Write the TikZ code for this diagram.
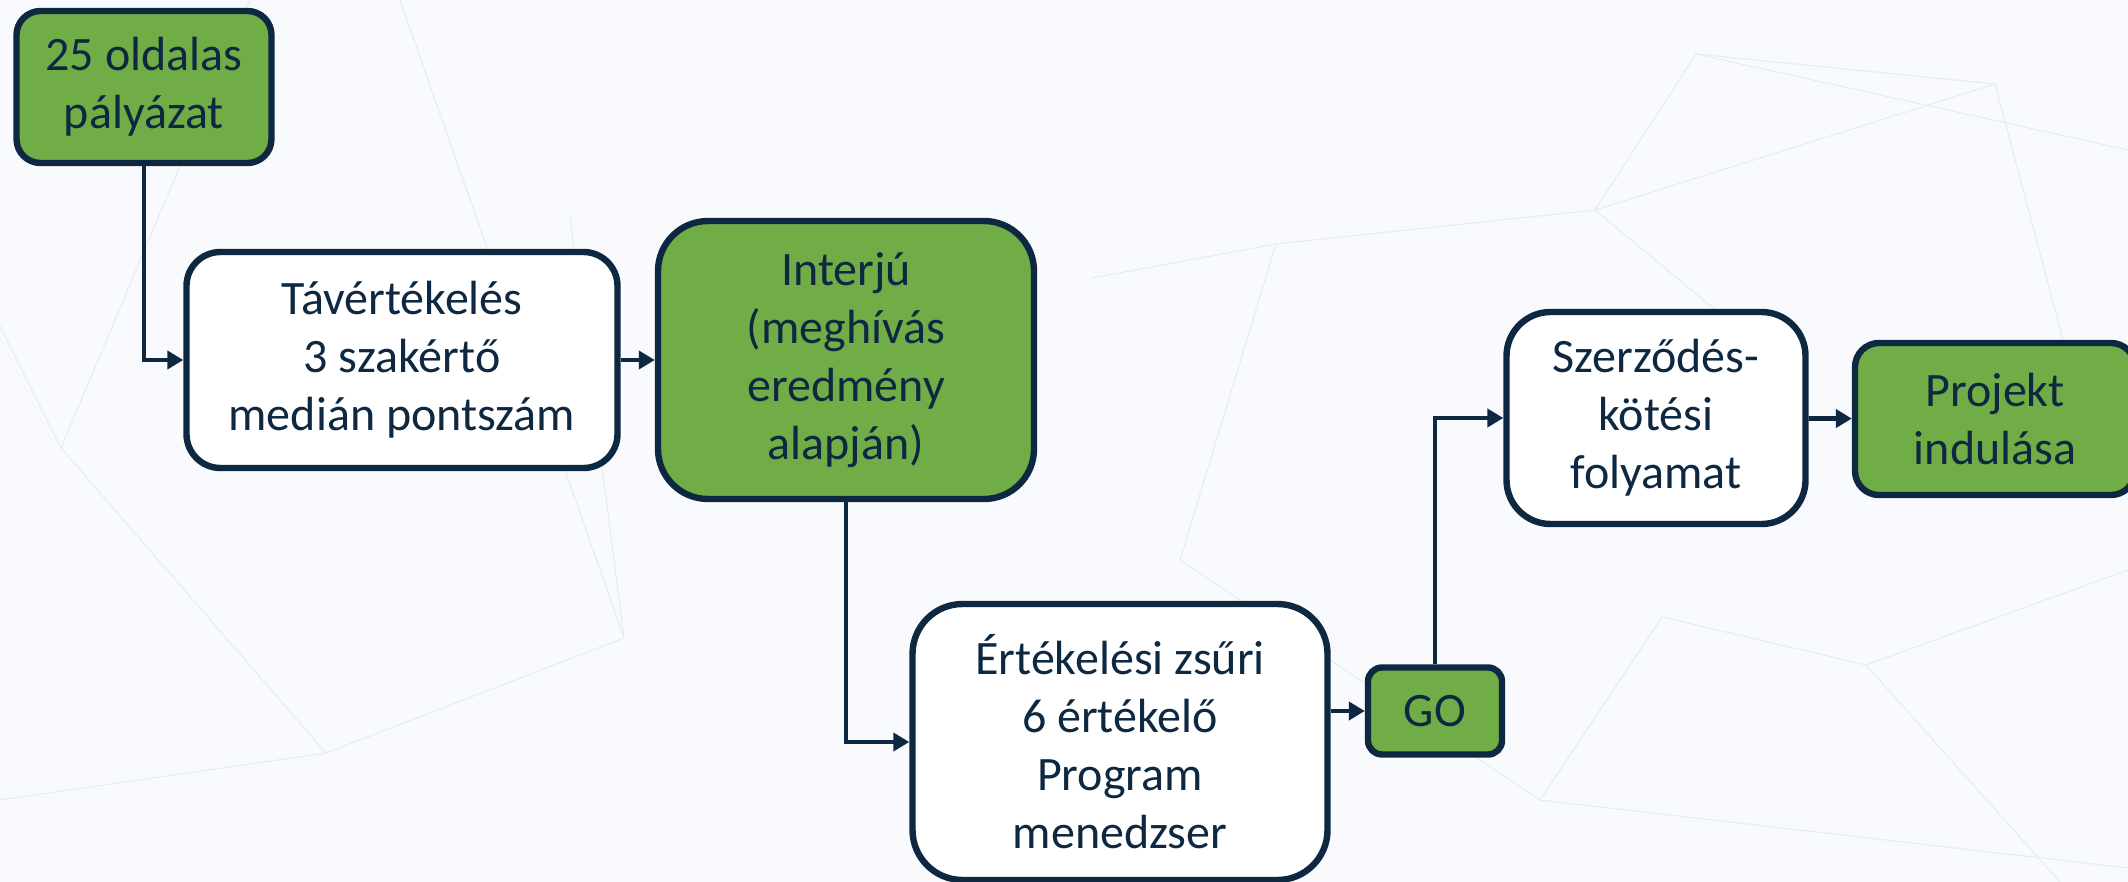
\documentclass[tikz,border=0pt]{standalone}
\usepackage{fontspec}
\setmainfont{Carlito}
\usetikzlibrary{arrows.meta}

\definecolor{navy}{HTML}{0E2841}
\definecolor{ggreen}{HTML}{70AD47}
\definecolor{paper}{HTML}{F9FAFD}
\definecolor{mesh}{HTML}{E2ECF8}

\begin{document}
\begin{tikzpicture}[x=0.5pt,y=-0.5pt,->,>={Triangle[length=8pt,width=9pt]},line width=2.4pt,draw=navy,
    main node/.style={draw=navy,line width=3.2pt,text=navy,align=center,inner sep=0pt,
        font=\fontsize{24}{29}\selectfont},
    green node/.style={main node,fill=ggreen},
    white node/.style={main node,fill=white}]
                \useasboundingbox[fill=paper] (0,0) rectangle (2128,882);

                % background mesh
                \foreach \a/\b/\c/\d in {1595/210/1696/54, 1595/210/1276/244, 1595/210/1995/84,
                    1696/54/1995/84, 1696/54/2128/150, 1995/84/2063/340, 1595/210/1800/380,
                    61/448/326/753, 61/448/0/326, 326/753/624/638, 624/638/570/217,
                    61/448/250/0, 1662/617/1866/665, 1866/665/2128/570, 1662/617/1540/800,
                    1540/800/2128/868, 1276/244/1180/560, 1092/278/1276/244, 326/753/0/800,
                    1866/665/2060/882, 1180/560/1540/800, 400/0/624/638}
                    \draw[-,mesh,line width=0.5pt] (\a,\b) -- (\c,\d);

                \node[green node,minimum width=127.5pt,minimum height=76pt,rounded corners=12pt] (palyazat) at (144,87) {25 oldalas\\pályázat};
                \node[white node,minimum width=215.5pt,minimum height=108pt,rounded corners=17pt] (tav) at (402,360) {Távértékelés\\3 szakértő\\medián pontszám};
                \node[green node,minimum width=188pt,minimum height=139pt,rounded corners=25pt] (interju) at (846,360) {Interjú\\(meghívás\\eredmény\\alapján)};
                \node[white node,minimum width=207.5pt,minimum height=138pt,rounded corners=25pt] (zsuri) at (1120,742) {Értékelési zsűri\\6 értékelő\\Program\\menedzser};
                \node[green node,minimum width=67pt,minimum height=43.5pt,rounded corners=7pt] (go) at (1435,711) {GO};
                \node[white node,minimum width=149.5pt,minimum height=106pt,rounded corners=22pt] (szerzodes) at (1656,418) {Szerződés-\\kötési\\folyamat};
                \node[green node,minimum width=140pt,minimum height=76pt,rounded corners=12pt] (projekt) at (1995,419) {Projekt\\indulása};

                \path[navy]
                    (palyazat) edge[to path={|- (\tikztotarget)}] (tav)
                    (tav) edge (interju)
                    (interju) edge[to path={|- (\tikztotarget)}] (zsuri)
                    (go) edge[to path={|- (\tikztotarget)}] (szerzodes)
                    (szerzodes) edge (projekt)
                    ;
                \draw[navy]
                    (zsuri.east |- go) -- (go)
                ;
            \end{tikzpicture}
\end{document}
